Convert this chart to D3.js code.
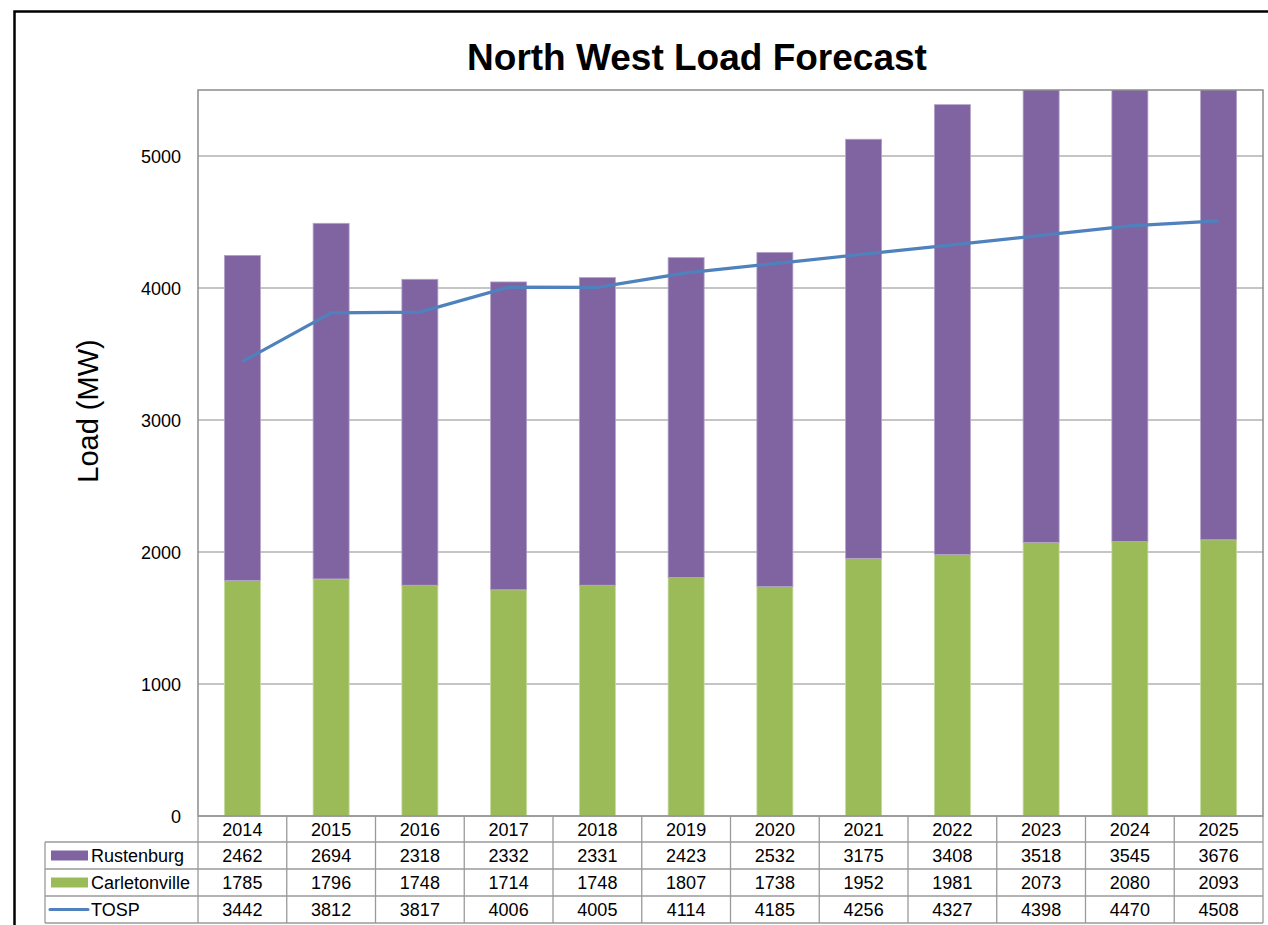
<!DOCTYPE html>
<html><head><meta charset="utf-8">
<script src="https://cdn.jsdelivr.net/npm/d3@7"></script>
<style>body{margin:0;background:#fff;} svg{display:block;font-family:"Liberation Sans",Arial,Helvetica,sans-serif;}</style>
</head><body>
<svg id="c" width="1268" height="925"></svg>
<script>
const years = ["2014","2015","2016","2017","2018","2019","2020","2021","2022","2023","2024","2025"];
const rustenburg = [2462,2694,2318,2332,2331,2423,2532,3175,3408,3518,3545,3676];
const carletonville = [1785,1796,1748,1714,1748,1807,1738,1952,1981,2073,2080,2093];
const tosp = [3442,3812,3817,4006,4005,4114,4185,4256,4327,4398,4470,4508];
const yTicks = [0,1000,2000,3000,4000,5000];
const colors = {rust:"#8064A2", carl:"#9BBB59", tosp:"#4F81BD"};

const svg = d3.select("#c");
// outer frame
svg.append("path").attr("d","M14.5,1000 L14.5,11.5 L1300,11.5").attr("fill","none").attr("stroke","#000").attr("stroke-width",2.5);

const L=198, R=1263, T=90, B=816;
const x = d3.scaleBand().domain(years).range([L,R]).paddingInner(0).paddingOuter(0);
const y = d3.scaleLinear().domain([0,5500]).range([B,T]);
const bw = 36;

svg.append("text").attr("x",697).attr("y",70).attr("text-anchor","middle")
  .attr("font-size",37).attr("font-weight","bold").text("North West Load Forecast");

// gridlines
svg.append("g").selectAll("line").data(yTicks.filter(d=>d>0)).join("line")
  .attr("x1",L).attr("x2",R).attr("y1",d=>y(d)).attr("y2",d=>y(d))
  .attr("stroke","#8c8c8c").attr("stroke-width",1.2);

// axis labels
svg.append("g").selectAll("text").data(yTicks).join("text")
  .attr("x",181).attr("y",d=>y(d)+6.5).attr("text-anchor","end").attr("font-size",18).text(d=>d);

svg.append("text").attr("transform","translate(98,411) rotate(-90)").attr("text-anchor","middle")
  .attr("font-size",29).text("Load (MW)");

// bars
svg.append("clipPath").attr("id","pc").append("rect").attr("x",L).attr("y",T).attr("width",R-L).attr("height",B-T);
const bars = svg.append("g").attr("clip-path","url(#pc)");
bars.selectAll("rect.c").data(years).join("rect")
  .attr("x",d=>x(d)+x.bandwidth()/2-bw/2).attr("width",bw)
  .attr("y",(d,i)=>y(carletonville[i])).attr("height",(d,i)=>B-y(carletonville[i]))
  .attr("fill",colors.carl).attr("stroke","#c5dba0").attr("stroke-width",0.8);
bars.selectAll("rect.r").data(years).join("rect")
  .attr("x",d=>x(d)+x.bandwidth()/2-bw/2).attr("width",bw)
  .attr("y",(d,i)=>y(carletonville[i]+rustenburg[i])).attr("height",(d,i)=>y(carletonville[i])-y(carletonville[i]+rustenburg[i]))
  .attr("fill",colors.rust).attr("stroke","#b3a2c9").attr("stroke-width",0.8);

// line
const line = d3.line().x((d,i)=>x(years[i])+x.bandwidth()/2).y(d=>y(d));
svg.append("path").datum(tosp).attr("d",line).attr("fill","none").attr("stroke",colors.tosp).attr("stroke-width",3.2);

// plot border
svg.append("rect").attr("x",L).attr("y",T).attr("width",R-L).attr("height",B-T)
  .attr("fill","none").attr("stroke","#8c8c8c").attr("stroke-width",1.5);

// data table
const rowY = [816,842,869,896,923];
const tg = svg.append("g");
const gc = "#9a9a9a";
tg.append("line").attr("x1",L).attr("x2",R).attr("y1",rowY[0]).attr("y2",rowY[0]).attr("stroke",gc).attr("stroke-width",1.5);
rowY.slice(1).forEach(v=>tg.append("line").attr("x1",45).attr("x2",R).attr("y1",v).attr("y2",v).attr("stroke",gc).attr("stroke-width",1.3));
tg.append("line").attr("x1",45).attr("x2",45).attr("y1",rowY[1]).attr("y2",rowY[4]).attr("stroke",gc).attr("stroke-width",1.3);
years.forEach(yv=>tg.append("line").attr("x1",x(yv)).attr("x2",x(yv)).attr("y1",rowY[0]).attr("y2",rowY[4]).attr("stroke",gc).attr("stroke-width",1.3));
tg.append("line").attr("x1",R).attr("x2",R).attr("y1",rowY[0]).attr("y2",rowY[4]).attr("stroke",gc).attr("stroke-width",1.3);

const rows = [years, rustenburg, carletonville, tosp];
rows.forEach((arr,ri)=>{
  tg.selectAll(null).data(arr).join("text")
    .attr("x",(d,i)=>x(years[i])+x.bandwidth()/2).attr("y",(rowY[ri]+rowY[ri+1])/2+6.5)
    .attr("text-anchor","middle").attr("font-size",18).text(d=>d);
});
const legend = [{n:"Rustenburg",c:colors.rust,t:"rect"},{n:"Carletonville",c:colors.carl,t:"rect"},{n:"TOSP",c:colors.tosp,t:"line"}];
legend.forEach((l,i)=>{
  const cy=(rowY[i+1]+rowY[i+2])/2;
  if(l.t==="rect") tg.append("rect").attr("x",51).attr("y",cy-5).attr("width",37).attr("height",10).attr("fill",l.c);
  else tg.append("line").attr("x1",50).attr("x2",88).attr("y1",cy).attr("y2",cy).attr("stroke",l.c).attr("stroke-width",3).attr("stroke-linecap","round");
  tg.append("text").attr("x",91).attr("y",cy+6.5).attr("font-size",18).text(l.n);
});
</script>
</body></html>
